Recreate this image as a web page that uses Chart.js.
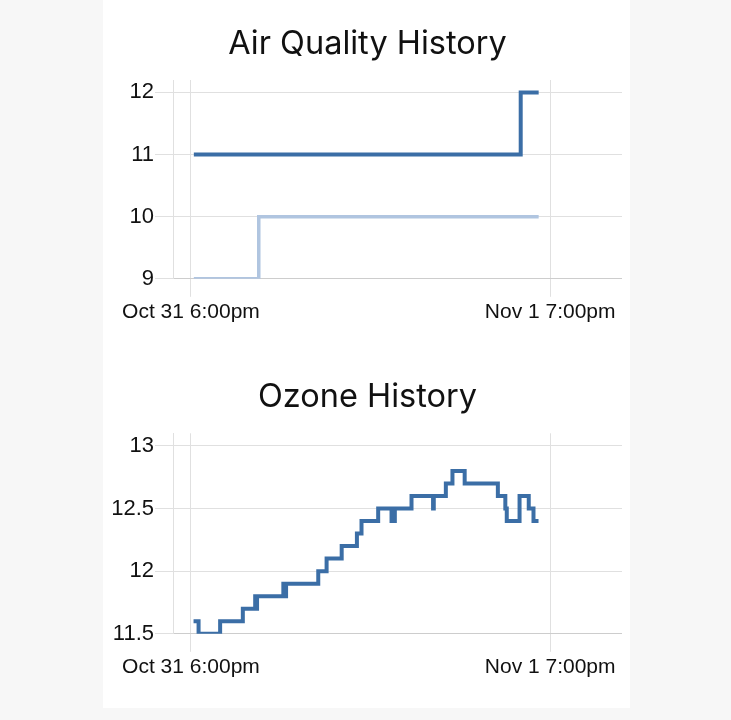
<!DOCTYPE html>
<html lang="en">
<head>
<meta charset="UTF-8">
<title>Air Quality / Ozone History</title>
<script src="https://cdn.jsdelivr.net/npm/chart.js"></script>
<style>
    body {
        margin: 0;
        background-color: #f7f7f7;
        width: 731px;
        height: 720px;
        overflow: hidden;
        position: relative;
    }
    .card {
        position: absolute;
        left: 103px;
        top: 0;
        width: 527px;
        height: 708px;
        background: #ffffff;
    }
    .card canvas {
        position: absolute;
        left: 0;
    }
</style>
</head>
<body>
<div class="card">
    <canvas id="aqChart" style="top:0px"></canvas>
    <canvas id="ozChart" style="top:350px"></canvas>
</div>
<script>
// x values are hours after Oct 31 6:00pm
const xTickHours = [0, 25];
const xTickLabels = ['Oct 31 6:00pm', 'Nov 1 7:00pm'];

// Air quality, two sensors (step change points)
const aqDarkHours = [0.2, 22.95, 24.2];
const aqDarkValues = [11, 12, 12];
const aqLightHours = [0.2, 4.72, 24.2];
const aqLightValues = [9, 10, 10];

// Ozone (step change points)
const ozHours = [0.18, 0.53, 2.03, 3.61, 4.47, 4.53, 4.60, 6.43, 6.52, 6.62, 8.86, 9.44, 10.49,
    11.55, 11.87, 13.03, 13.96, 14.19, 15.35, 16.85, 16.9, 17.74, 18.2, 19.05, 21.36,
    21.88, 21.98, 22.87, 23.51, 23.84, 24.19];
const ozValues = [11.6, 11.5, 11.6, 11.7, 11.8, 11.7, 11.8, 11.9, 11.8, 11.9, 12.0, 12.1, 12.2,
    12.3, 12.4, 12.5, 12.4, 12.5, 12.6, 12.5, 12.6, 12.7, 12.8, 12.7, 12.6,
    12.5, 12.4, 12.6, 12.5, 12.4, 12.4];

const DARK = '#3b6ea6';
const LIGHT = '#b0c5e0';

function pts(xs, ys) {
    return xs.map((x, i) => ({ x: x, y: ys[i] }));
}

function makeChart(id, w, h, title, titlePad, bottomPad, datasets, yMin, yMax, yStep) {
    const canvas = document.getElementById(id);
    canvas.width = w;
    canvas.height = h;
    canvas.style.width = w + 'px';
    canvas.style.height = h + 'px';
    return new Chart(canvas, {
        type: 'line',
        data: { datasets: datasets },
        options: {
            responsive: false,
            animation: false,
            layout: { padding: { left: 10, right: 0, top: 0, bottom: bottomPad } },
            plugins: {
                legend: { display: false },
                tooltip: { enabled: false },
                title: {
                    display: true,
                    text: title,
                    color: '#111111',
                    font: { family: 'Inter', size: 32.5, weight: 'normal' },
                    padding: titlePad
                }
            },
            elements: { point: { radius: 0 } },
            scales: {
                x: {
                    type: 'linear',
                    min: -1.25,
                    max: 30,
                    grid: { color: '#e0e0e0', tickLength: 18, drawOnChartArea: true },
                    border: { color: '#cdcdcd' },
                    afterBuildTicks: (scale) => {
                        scale.ticks = xTickHours.map(v => ({ value: v }));
                    },
                    ticks: {
                        padding: 3,
                        maxRotation: 0,
                        autoSkip: false,
                        color: '#111111',
                        font: { family: 'Liberation Sans', size: 21 },
                        callback: (v) => xTickLabels[xTickHours.indexOf(v)]
                    }
                },
                y: {
                    min: yMin,
                    max: yMax,
                    afterFit: (scale) => { scale.width = 60; },
                    grid: { color: '#e0e0e0', tickLength: 18 },
                    border: { color: '#e0e0e0' },
                    ticks: {
                        stepSize: yStep,
                        includeBounds: false,
                        padding: 1,
                        color: '#111111',
                        font: { family: 'Liberation Sans', size: 22 },
                        callback: (v) => String(Math.round(v * 10) / 10)
                    }
                }
            }
        }
    });
}

makeChart('aqChart', 519, 340, 'Air Quality History', { top: 24.5, bottom: 16.5 }, 12, [
    { data: pts(aqLightHours, aqLightValues), borderColor: LIGHT, borderWidth: 3.5, stepped: true, fill: false },
    { data: pts(aqDarkHours, aqDarkValues), borderColor: DARK, borderWidth: 4, stepped: true, fill: false }
], 9, 12.2, 1);

makeChart('ozChart', 519, 358, 'Ozone History', { top: 27.5, bottom: 16.8 }, 25, [
    { data: pts(ozHours, ozValues), borderColor: DARK, borderWidth: 4, stepped: true, fill: false }
], 11.5, 13.1, 0.5);
</script>
</body>
</html>
